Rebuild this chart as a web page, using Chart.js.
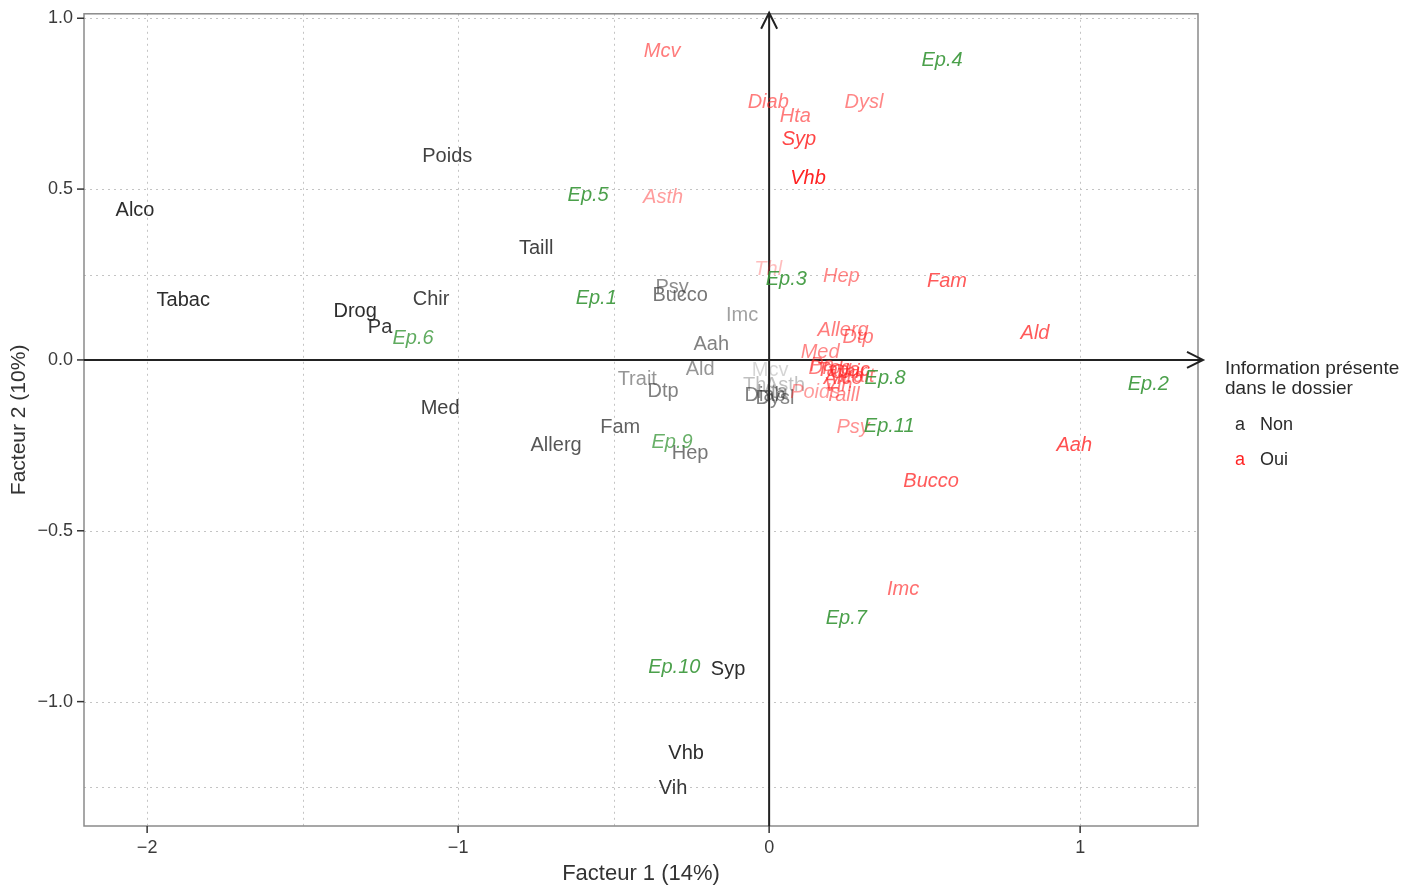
<!DOCTYPE html>
<html>
<head>
<meta charset="utf-8">
<script src="https://cdn.jsdelivr.net/npm/chart.js@4.4.1/dist/chart.umd.min.js"></script>
<style>
  html, body { margin: 0; padding: 0; background: #ffffff; }
  canvas { display: block; }
</style>
</head>
<body>
<canvas id="afc" width="1427" height="891"></canvas>
<script>
// Modalités « Non » : information absente du dossier
const nonLabels = ['Alco','Tabac','Poids','Taill','Drog','Pa','Chir','Med','Allerg','Fam','Hep','Psy','Bucco','Imc','Aah','Ald','Trait','Dtp','Syp','Vhb','Vih','Mcv','Thl','Asth','Hta','Dysl','Diab'];
const nonF1 = [-2.039,-1.884,-1.035,-0.749,-1.331,-1.251,-1.087,-1.058,-0.685,-0.479,-0.254,-0.312,-0.286,-0.087,-0.186,-0.222,-0.424,-0.341,-0.132,-0.267,-0.309,0.003,-0.039,0.051,0.010,0.019,-0.013];
const nonF2 = [0.436,0.173,0.594,0.325,0.143,0.094,0.178,-0.143,-0.249,-0.199,-0.275,0.213,0.190,0.129,0.044,-0.029,-0.058,-0.091,-0.906,-1.151,-1.254,-0.032,-0.076,-0.076,-0.096,-0.114,-0.105];
const nonAlpha = [1,1,0.9,0.9,1,0.95,0.9,0.9,0.8,0.75,0.65,0.55,0.65,0.45,0.6,0.5,0.5,0.6,1,1,0.95,0.2,0.3,0.3,0.45,0.6,0.6];

// Modalités « Oui » : information présente dans le dossier
const ouiLabels = ['Mcv','Diab','Hta','Dysl','Syp','Vhb','Asth','Thl','Hep','Fam','Ald','Allerg','Dtp','Med','Pa','Drog','Tabac','Chir','Alco','Trait','Vih','Poids','Taill','Psy','Bucco','Imc','Aah'];
const ouiF1 = [-0.344,-0.003,0.084,0.305,0.096,0.125,-0.341,-0.003,0.232,0.572,0.855,0.238,0.286,0.164,0.170,0.196,0.238,0.254,0.238,0.277,0.222,0.148,0.235,0.270,0.521,0.431,0.981];
const ouiF2 = [0.904,0.754,0.713,0.754,0.646,0.532,0.477,0.266,0.243,0.231,0.079,0.085,0.067,0.022,-0.016,-0.026,-0.032,-0.038,-0.055,-0.047,-0.076,-0.096,-0.105,-0.199,-0.357,-0.673,-0.249];
const ouiAlpha = [0.6,0.6,0.6,0.55,0.85,1,0.45,0.3,0.55,0.75,0.75,0.6,0.6,0.55,0.55,0.6,0.7,0.7,0.7,0.6,0.6,0.45,0.55,0.5,0.75,0.65,0.8];

// Épisodes (individus supplémentaires)
const epLabels = ['Ep.1','Ep.2','Ep.3','Ep.4','Ep.5','Ep.6','Ep.7','Ep.8','Ep.9','Ep.10','Ep.11'];
const epF1 = [-0.556,1.219,0.055,0.556,-0.582,-1.145,0.248,0.373,-0.312,-0.305,0.386];
const epF2 = [0.181,-0.073,0.237,0.877,0.480,0.064,-0.757,-0.053,-0.240,-0.901,-0.196];
const epAlpha = [0.9,0.9,0.9,0.9,0.9,0.8,0.9,0.9,0.75,0.9,0.9];

// Graduations et quadrillage
const xTickValues = [-2, -1, 0, 1];
const xTickLabels = ['\u22122', '\u22121', '0', '1'];
const yTickValues = [-1, -0.5, 0, 0.5, 1];
const yTickLabels = ['\u22121.0', '\u22120.5', '0.0', '0.5', '1.0'];
const xGrid = [-2, -1.5, -1, -0.5, 1];
const yGrid = [1, 0.5, 0.25, -0.5, -1, -1.25];

const FONT = '"Liberation Sans", Arial, sans-serif';

function points(xs, ys) { return xs.map((x, i) => ({ x: x, y: ys[i] })); }

const styles = [
  { labels: nonLabels, alpha: nonAlpha, rgb: '45,45,45', italic: false },
  { labels: ouiLabels, alpha: ouiAlpha, rgb: '255,35,35', italic: true },
  { labels: epLabels, alpha: epAlpha, rgb: '55,150,55', italic: true }
];

// Cadre, quadrillage pointillé et axes fléchés
const framePlugin = {
  id: 'frame',
  beforeDatasetsDraw(chart) {
    const { ctx, chartArea: a, scales: { x, y } } = chart;
    ctx.save();
    ctx.strokeStyle = '#c4c4c4';
    ctx.lineWidth = 1;
    ctx.setLineDash([2, 4]);
    xGrid.forEach(v => {
      const px = Math.round(x.getPixelForValue(v)) + 0.5;
      ctx.beginPath(); ctx.moveTo(px, a.top); ctx.lineTo(px, a.bottom); ctx.stroke();
    });
    yGrid.forEach(v => {
      const py = Math.round(y.getPixelForValue(v)) + 0.5;
      ctx.beginPath(); ctx.moveTo(a.left, py); ctx.lineTo(a.right, py); ctx.stroke();
    });
    ctx.setLineDash([]);
    // bordure du panneau
    ctx.strokeStyle = '#8a8a8a';
    ctx.lineWidth = 1.5;
    ctx.strokeRect(a.left, a.top, a.right - a.left, a.bottom - a.top);
    // graduations extérieures
    ctx.strokeStyle = '#333';
    ctx.lineWidth = 1.5;
    xTickValues.forEach(v => {
      const px = x.getPixelForValue(v);
      ctx.beginPath(); ctx.moveTo(px, a.bottom); ctx.lineTo(px, a.bottom + 7); ctx.stroke();
    });
    yTickValues.forEach(v => {
      const py = y.getPixelForValue(v);
      ctx.beginPath(); ctx.moveTo(a.left - 7, py); ctx.lineTo(a.left, py); ctx.stroke();
    });
    // axes factoriels avec flèches
    const x0 = x.getPixelForValue(0), y0 = y.getPixelForValue(0);
    ctx.strokeStyle = '#222';
    ctx.lineWidth = 2;
    const hx = a.right + 5, vy = a.top - 1;
    ctx.beginPath();
    ctx.moveTo(a.left, y0); ctx.lineTo(hx, y0);
    ctx.moveTo(hx - 16, y0 - 8); ctx.lineTo(hx, y0); ctx.lineTo(hx - 16, y0 + 8);
    ctx.moveTo(x0, a.bottom); ctx.lineTo(x0, vy);
    ctx.moveTo(x0 - 8, vy + 16); ctx.lineTo(x0, vy); ctx.lineTo(x0 + 8, vy + 16);
    ctx.stroke();
    ctx.restore();
  },
  afterDatasetsDraw(chart) {
    const { ctx } = chart;
    ctx.save();
    ctx.textAlign = 'center';
    ctx.textBaseline = 'middle';
    chart.data.datasets.forEach((ds, di) => {
      const st = styles[di];
      const meta = chart.getDatasetMeta(di);
      ctx.font = (st.italic ? 'italic ' : '') + '20px ' + FONT;
      meta.data.forEach((el, i) => {
        ctx.fillStyle = 'rgba(' + st.rgb + ',' + st.alpha[i] + ')';
        ctx.fillText(st.labels[i], el.x, el.y);
      });
    });
    ctx.restore();
  },
  afterDraw(chart) {
    // légende
    const { ctx } = chart;
    ctx.save();
    ctx.textBaseline = 'middle';
    ctx.textAlign = 'left';
    ctx.fillStyle = '#2a2a2a';
    ctx.font = '19px ' + FONT;
    ctx.fillText('Information présente', 1225, 369);
    ctx.fillText('dans le dossier', 1225, 389);
    ctx.font = '18px ' + FONT;
    ctx.fillText('Non', 1260, 425);
    ctx.fillText('Oui', 1260, 460);
    ctx.textAlign = 'center';
    ctx.fillStyle = 'rgb(45,45,45)';
    ctx.fillText('a', 1240, 425);
    ctx.fillStyle = 'rgb(255,35,35)';
    ctx.fillText('a', 1240, 460);
    ctx.restore();
  }
};

new Chart(document.getElementById('afc'), {
  type: 'scatter',
  data: {
    datasets: [
      { label: 'Non', data: points(nonF1, nonF2) },
      { label: 'Oui', data: points(ouiF1, ouiF2) },
      { label: 'Épisodes', data: points(epF1, epF2) }
    ]
  },
  options: {
    responsive: false,
    devicePixelRatio: 1,
    animation: false,
    elements: { point: { radius: 0, hoverRadius: 0 } },
    layout: { padding: { top: 13, right: 229, left: 0, bottom: 0 } },
    plugins: { legend: { display: false }, tooltip: { enabled: false } },
    events: [],
    scales: {
      x: {
        type: 'linear',
        min: -2.203, max: 1.379,
        afterBuildTicks(s) { s.ticks = xTickValues.map(v => ({ value: v })); },
        afterFit(s) { s.height = 65; },
        grid: { display: true, drawOnChartArea: false, color: 'rgba(0,0,0,0)', tickLength: 8 },
        border: { display: false },
        ticks: {
          padding: 3,
          color: '#3a3a3a',
          font: { family: FONT, size: 18 },
          callback(v) { const i = xTickValues.indexOf(v); return i < 0 ? '' : xTickLabels[i]; }
        },
        title: {
          display: true, text: 'Facteur 1 (14%)', color: '#333',
          font: { family: FONT, size: 22 }, padding: { top: 0, bottom: 4 }
        }
      },
      y: {
        type: 'linear',
        min: -1.364, max: 1.013,
        afterBuildTicks(s) { s.ticks = yTickValues.map(v => ({ value: v })); },
        afterFit(s) { s.width = 84; },
        grid: { display: true, drawOnChartArea: false, color: 'rgba(0,0,0,0)', tickLength: 8 },
        border: { display: false },
        ticks: {
          padding: 3,
          color: '#3a3a3a',
          font: { family: FONT, size: 18 },
          callback(v) { const i = yTickValues.indexOf(v); return i < 0 ? '' : yTickLabels[i]; }
        },
        title: {
          display: true, text: 'Facteur 2 (10%)', color: '#333',
          font: { family: FONT, size: 21 }, padding: { top: 7, bottom: 0 }
        }
      }
    }
  },
  plugins: [framePlugin]
});
</script>
</body>
</html>
